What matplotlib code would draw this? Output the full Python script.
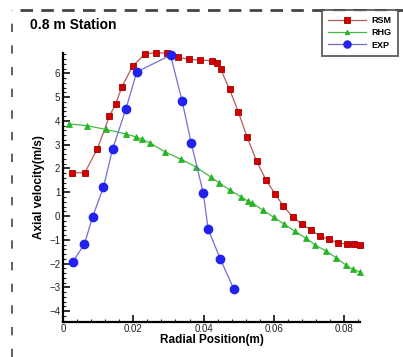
import matplotlib
matplotlib.use("Agg")
import matplotlib.pyplot as plt
from matplotlib.lines import Line2D
from matplotlib.ticker import MultipleLocator

plt.rcParams['font.family'] = ['Liberation Sans', 'DejaVu Sans']

rsm_x = [0.0025, 0.0062, 0.0098, 0.0132, 0.0150, 0.0167, 0.0198, 0.0233, 0.0265, 0.0296,
         0.0328, 0.0359, 0.0391, 0.0423, 0.0437, 0.0449, 0.0474, 0.0499, 0.0524, 0.0551,
         0.0577, 0.0604, 0.0627, 0.0653, 0.0681, 0.0706, 0.0731, 0.0757, 0.0781, 0.0807,
         0.0829, 0.0845]
rsm_y = [1.82, 1.82, 2.83, 4.20, 4.71, 5.41, 6.30, 6.81, 6.87, 6.84,
         6.67, 6.59, 6.55, 6.53, 6.42, 6.16, 5.32, 4.37, 3.31, 2.31,
         1.53, 0.92, 0.42, -0.03, -0.35, -0.59, -0.84, -0.98, -1.12, -1.18,
         -1.18, -1.22]

rhg_x = [0.0018, 0.0068, 0.0122, 0.0179, 0.0209, 0.0226, 0.0248, 0.0290, 0.0335, 0.0379,
         0.0421, 0.0444, 0.0475, 0.0506, 0.0526, 0.0539, 0.0569, 0.0601, 0.0630, 0.0659,
         0.0690, 0.0718, 0.0748, 0.0777, 0.0805, 0.0824, 0.0845]
rhg_y = [3.87, 3.80, 3.64, 3.45, 3.32, 3.22, 3.07, 2.70, 2.39, 2.06,
         1.63, 1.40, 1.09, 0.81, 0.63, 0.55, 0.24, -0.06, -0.35, -0.63,
         -0.92, -1.22, -1.47, -1.75, -2.06, -2.24, -2.34]

exp_x = [0.0028, 0.0061, 0.0084, 0.0115, 0.0141, 0.0179, 0.0210, 0.0306, 0.0339, 0.0365,
         0.0399, 0.0413, 0.0448, 0.0486]
exp_y = [-1.92, -1.18, -0.04, 1.21, 2.81, 4.50, 6.06, 6.76, 4.83, 3.05,
         0.98, -0.55, -1.82, -3.07]

fig = plt.figure(figsize=(4.03, 3.57), dpi=100)
ax = fig.add_axes([63/403, 1-321.7/357, (360-63)/403, (321.7-53.3)/357])

ax.plot(rsm_x, rsm_y, color='#b85a5a', lw=0.9, marker='s', ms=5,
        mfc='#d40000', mec='#a00000', mew=0.6, label='RSM', clip_on=False)
ax.plot(rhg_x, rhg_y, color='#44bb44', lw=0.9, marker='^', ms=4,
        mfc='#22bb22', mec='#22aa22', mew=0.5, label='RHG', clip_on=False)
ax.plot(exp_x, exp_y, color='#7070d0', lw=0.9, marker='o', ms=6,
        mfc='#2222ee', mec='#2222ee', label='EXP', clip_on=False)

ax.set_xlim(0, 0.0845)
ax.set_ylim(-4.44, 6.84)
for s in ['top', 'right']:
    ax.spines[s].set_visible(False)
for s in ['left', 'bottom']:
    ax.spines[s].set_linewidth(1.6)

ax.xaxis.set_major_locator(MultipleLocator(0.02))
ax.xaxis.set_minor_locator(MultipleLocator(0.004))
ax.yaxis.set_major_locator(MultipleLocator(1))
ax.yaxis.set_minor_locator(MultipleLocator(0.2))
ax.tick_params(which='major', direction='in', length=5, width=1.3, labelsize=7, pad=2, colors='#222222')
ax.tick_params(which='minor', direction='in', length=2.5, width=0.8, colors='#222222')
ax.xaxis.set_major_formatter(plt.FuncFormatter(lambda v, p: '0' if abs(v) < 1e-12 else f'{v:.2f}'))

ax.set_xlabel('Radial Position(m)', fontsize=8.5, fontweight='bold', labelpad=0)
ax.set_ylabel('Axial velocity(m/s)', fontsize=8.5, fontweight='bold', labelpad=3)

fig.text(30/403, 1-25/357, '0.8 m Station', fontsize=10, fontweight='bold', va='center', ha='left')

leg = fig.legend(loc='upper left', bbox_to_anchor=(321.7/403, 1-10/357), borderaxespad=0,
                 frameon=True, fancybox=False, edgecolor='#444444', borderpad=0.7,
                 handlelength=4.2, handletextpad=0.6, labelspacing=0.35, markerscale=0.85,
                 prop={'weight': 'bold', 'size': 6.5})
leg.get_frame().set_linewidth(1.4)

# dashed frame border
fig.add_artist(Line2D([20/403, 1], [1-10/357, 1-10/357], transform=fig.transFigure,
                      color='#444444', lw=2, ls=(0, (4.5, 3))))
fig.add_artist(Line2D([12/403, 12/403], [0, 1-10/357], transform=fig.transFigure,
                      color='#444444', lw=1.2, ls=(0, (5, 8))))

fig.savefig('out.png', dpi=100)
